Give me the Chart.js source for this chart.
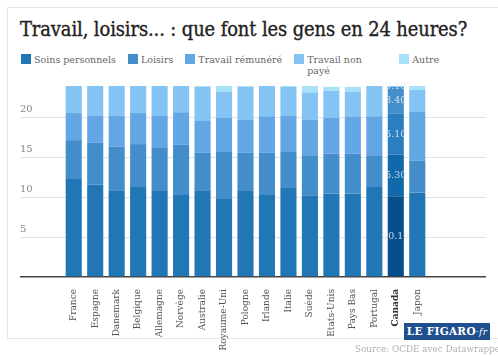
<!DOCTYPE html>
<html lang="fr">
<head>
<meta charset="utf-8">
<title>Travail, loisirs... : que font les gens en 24 heures?</title>
<script src="https://cdn.jsdelivr.net/npm/chart.js@4.4.1/dist/chart.umd.min.js"></script>
<style>
  html, body { margin: 0; padding: 0; background: #fff; width: 498px; height: 356px; overflow: hidden; }
  body { position: relative; font-family: "DejaVu Serif", serif; }
  .frame { position: absolute; left: 7px; top: 7px; width: 520px; height: 332px; border: 1px solid #e6e6e6; box-sizing: border-box; }
  h1 {
    position: absolute; left: 20px; top: 18px; margin: 0;
    font-family: "DejaVu Serif Condensed", "DejaVu Serif", serif; font-stretch: condensed;
    font-size: 19.9px; font-weight: normal; color: #222; white-space: nowrap; letter-spacing: -0.1px;
    -webkit-text-stroke: 0.35px #222;
  }
  #legend { position: absolute; left: 21px; top: 54px; display: flex; align-items: flex-start; font-size: 9.5px; line-height: 11px; color: #666; }
  #legend .item { display: flex; align-items: flex-start; margin-right: 12px; }
  #legend .sw { width: 10px; height: 10px; margin-right: 3px; flex: none; }
  #legend .item:nth-child(4) .txt { width: 62px; }
  #legend .item:nth-child(4) { margin-right: 30px; }
  #wrap { position: absolute; left: 0; top: 80px; width: 498px; height: 277px; }
  .logo {
    position: absolute; left: 404px; top: 323px; width: 86px; height: 17px; background: #1f4f8e;
    color: #fff; font-family: "DejaVu Serif", serif; font-weight: bold; font-size: 10.5px;
    line-height: 17px; text-align: center; white-space: nowrap; letter-spacing: 0.3px;
  }
  .logo i { font-weight: normal; font-size: 9px; }
  .source { position: absolute; left: 355px; top: 344px; font-size: 8.8px; color: #b0b0b0; white-space: nowrap; }
</style>
</head>
<body>
<div class="frame"></div>
<h1>Travail, loisirs... : que font les gens en 24 heures?</h1>
<div id="legend"></div>
<div id="wrap"><canvas id="timeChart"></canvas></div>
<div class="logo">LE FIGARO<i>·fr</i></div>
<div class="source">Source: OCDE avec Datawrapper</div>

<script>
// Heures par jour, par pays
const pays = ['France', 'Espagne', 'Danemark', 'Belgique', 'Allemagne', 'Norvège', 'Australie',
  'Royaume-Uni', 'Pologne', 'Irlande', 'Italie', 'Suède', 'Etats-Unis', 'Pays Bas', 'Portugal',
  'Canada', 'Japon'];
const soinsPersonnels = [12.4, 11.6, 10.9, 11.3, 10.8, 10.3, 10.9, 9.8, 10.8, 10.3, 11.2, 10.2, 10.5, 10.5, 11.3, 10.1, 10.6];
const loisirs         = [4.8, 5.3, 5.5, 5.4, 5.5, 6.3, 4.7, 6.0, 4.8, 5.3, 4.6, 5.1, 5.0, 5.0, 4.0, 5.3, 4.0];
const travailRemunere = [3.4, 3.4, 3.9, 3.9, 4.0, 4.1, 4.0, 4.2, 4.2, 4.6, 4.5, 4.5, 4.5, 4.6, 4.9, 5.1, 6.2];
const travailNonPaye  = [3.4, 3.7, 3.7, 3.4, 3.7, 3.4, 4.3, 3.3, 4.1, 3.8, 3.6, 3.4, 3.4, 3.2, 3.8, 3.4, 2.7];
const autre           = [0.0, 0.0, 0.0, 0.0, 0.0, 0.0, 0.1, 0.8, 0.1, 0.0, 0.1, 0.9, 0.5, 0.6, 0.0, 0.1, 0.5];

const seriesNames = ['Soins personnels', 'Loisirs', 'Travail rémunéré', 'Travail non payé', 'Autre'];
const yTicks = [0, 5, 10, 15, 20];
const highlight = 'Canada';

const seriesValues = [soinsPersonnels, loisirs, travailRemunere, travailNonPaye, autre];
const colors = ['#2176b5', '#438eca', '#62a6e4', '#84c4f5', '#a8e2f8'];
const darkColors = ['#064f8c', '#0f69aa', '#2b7fc1', '#4490cd', '#8ccaee'];

// HTML legend
const legend = document.getElementById('legend');
seriesNames.forEach((name, k) => {
  const item = document.createElement('div');
  item.className = 'item';
  item.innerHTML = `<span class="sw" style="background:${colors[k]}"></span><span class="txt">${name}</span>`;
  legend.appendChild(item);
});

// Value labels on the highlighted bar
const highlightLabels = {
  id: 'highlightLabels',
  afterDatasetsDraw(chart) {
    const i = pays.indexOf(highlight);
    const c = chart.ctx;
    c.save();
    c.font = '9.5px "DejaVu Serif"';
    c.fillStyle = 'rgba(232, 236, 240, 0.85)';
    c.textAlign = 'center';
    c.textBaseline = 'middle';
    chart.data.datasets.forEach((ds, k) => {
      const bar = chart.getDatasetMeta(k).data[i];
      c.fillText(ds.data[i].toFixed(2), bar.x, (bar.y + bar.base) / 2);
    });
    c.restore();
  }
};

const gridColor = ctx => ctx.tick.value === 0 ? '#444' : '#e2e2e2';
const gridWidth = ctx => ctx.tick.value === 0 ? 1.5 : 1;
const setTicks = s => { s.ticks = yTicks.map(v => ({ value: v })); };

const chart = new Chart(document.getElementById('timeChart'), {
  type: 'bar',
  data: {
    labels: pays,
    datasets: seriesNames.map((name, k) => ({
      label: name,
      data: seriesValues[k],
      backgroundColor: ctx => pays[ctx.dataIndex] === highlight ? darkColors[k] : colors[k],
      borderWidth: 0,
      barPercentage: 0.75,
      categoryPercentage: 1
    }))
  },
  options: {
    responsive: true,
    maintainAspectRatio: false,
    animation: false,
    layout: { padding: { top: 6, left: 20, right: 12, bottom: 0 } },
    plugins: { legend: { display: false }, tooltip: { enabled: false } },
    scales: {
      x: {
        stacked: true,
        grid: { display: false, drawTicks: false },
        border: { display: false },
        ticks: {
          autoSkip: false,
          maxRotation: 90,
          minRotation: 90,
          padding: 12,
          color: ctx => ctx.tick && ctx.tick.label === highlight ? '#333' : '#555',
          font: ctx => ({
            family: '"DejaVu Serif"',
            size: 9,
            weight: ctx.tick && ctx.tick.label === highlight ? 'bold' : 'normal'
          })
        },
        afterFit: s => { s.height = 80; }
      },
      y: {
        stacked: true,
        min: 0,
        max: 24,
        afterBuildTicks: setTicks,
        grid: { color: gridColor, lineWidth: gridWidth, drawTicks: true, tickLength: 43 },
        border: { display: false },
        ticks: {
          crossAlign: 'far',
          padding: 0,
          labelOffset: -8,
          color: '#888',
          font: { family: '"DejaVu Serif"', size: 10 },
          callback: v => v === 0 ? '' : v
        },
        afterFit: s => { s.width = 43; }
      },
      y2: {
        type: 'linear',
        position: 'right',
        min: 0,
        max: 24,
        afterBuildTicks: setTicks,
        grid: { color: gridColor, lineWidth: gridWidth, drawOnChartArea: false, drawTicks: true, tickLength: 58 },
        border: { display: false },
        ticks: { display: false },
        afterFit: s => { s.width = 58; }
      }
    }
  },
  plugins: [highlightLabels]
});
</script>
</body>
</html>
